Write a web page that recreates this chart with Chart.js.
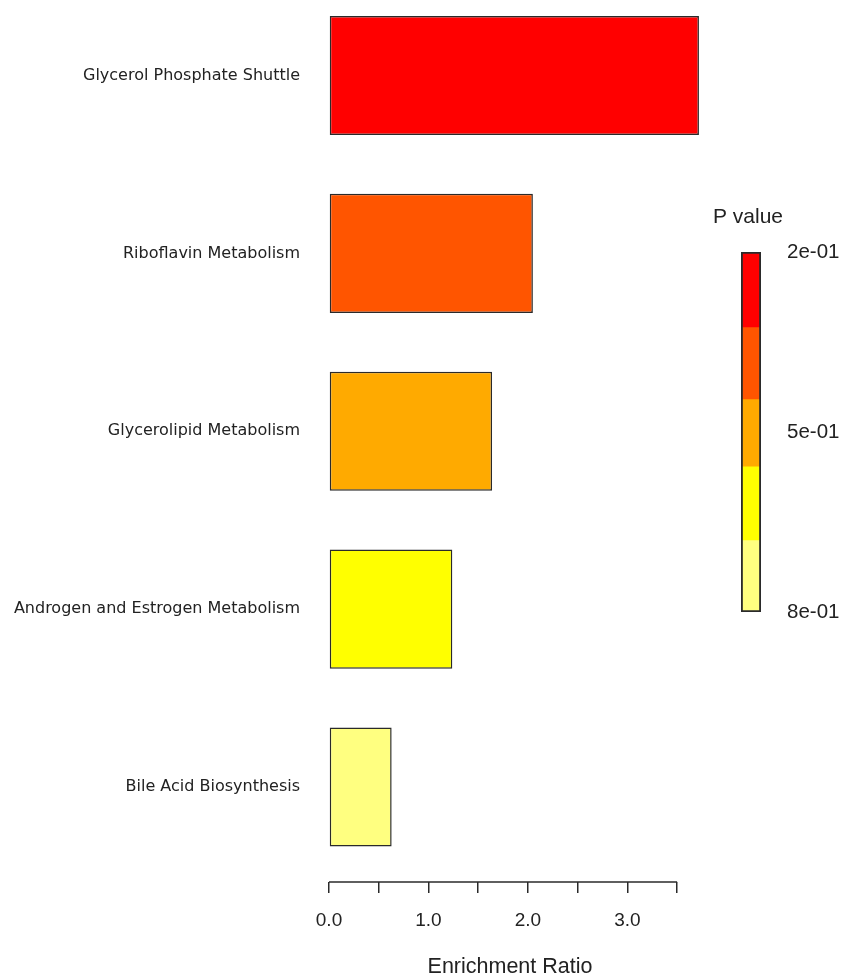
<!DOCTYPE html>
<html lang="en">
<head>
    <meta charset="UTF-8">
    <title>Enrichment Ratio</title>
    <script src="https://cdn.jsdelivr.net/npm/chart.js"></script>
    <style>
        body {
            margin: 0;
            padding: 0;
            background: #fff;
        }
        #wrap {
            position: relative;
            width: 843px;
            height: 980px;
        }
        #keyChart {
            position: absolute;
            left: 690px;
            top: 180px;
        }
    </style>
</head>
<body>
    <div id="wrap">
        <canvas id="barChart" width="843" height="980"></canvas>
        <canvas id="keyChart" width="153" height="450"></canvas>
    </div>
    <script>
        // Pathways, top to bottom
        const categories = [
            'Glycerol Phosphate Shuttle',
            'Riboflavin Metabolism',
            'Glycerolipid Metabolism',
            'Androgen and Estrogen Metabolism',
            'Bile Acid Biosynthesis'
        ];
        const enrichment = [3.72, 2.05, 1.64, 1.24, 0.63];
        const barColors = ['#ff0000', '#ff5500', '#ffaa00', '#ffff00', '#ffff80'];

        const xTicks = [0, 0.5, 1, 1.5, 2, 2.5, 3, 3.5];
        const xTickLabels = ['0.0', '', '1.0', '', '2.0', '', '3.0', ''];

        // P value colour key
        const keyBreaks = [0.2, 0.325, 0.445, 0.557, 0.68, 0.8];
        const keyColors = ['#ff0000', '#ff5500', '#ffaa00', '#ffff00', '#ffff80'];
        const keyTicks = [0.2, 0.5, 0.8];
        const keyTickLabels = ['2e-01', '5e-01', '8e-01'];

        const textColor = '#222';
        const lineColor = '#2a2a2a';
        const sans = "'Liberation Sans', Arial, sans-serif";

        // axis line only runs from first to last tick, like base R
        const axisLine = {
            id: 'axisLine',
            afterDraw(chart) {
                const x = chart.scales.x;
                const ctx = chart.ctx;
                ctx.save();
                ctx.strokeStyle = lineColor;
                ctx.lineWidth = 1.5;
                ctx.beginPath();
                ctx.moveTo(x.getPixelForValue(xTicks[0]), x.top);
                ctx.lineTo(x.getPixelForValue(xTicks[xTicks.length - 1]), x.top);
                ctx.stroke();
                ctx.restore();
            }
        };

        // keep label padding from pushing the plot area around
        function noPad(s) {
            s.paddingTop = 0;
            s.paddingBottom = 0;
            s.paddingLeft = 0;
            s.paddingRight = 0;
        }

        new Chart(document.getElementById('barChart'), {
            type: 'bar',
            data: {
                datasets: [{
                    data: enrichment.map((v, i) => ({ x: v, y: i })),
                    backgroundColor: barColors,
                    borderColor: lineColor,
                    borderWidth: 1.5,
                    borderSkipped: false,
                    barPercentage: 0.67,
                    categoryPercentage: 1,
                    clip: false
                }]
            },
            options: {
                indexAxis: 'y',
                responsive: false,
                animation: false,
                layout: { padding: { top: 20, right: 152, left: 0, bottom: 0 } },
                plugins: {
                    legend: { display: false },
                    tooltip: { enabled: false }
                },
                scales: {
                    x: {
                        type: 'linear',
                        position: 'bottom',
                        min: 0,
                        max: 3.64,
                        afterBuildTicks: s => { s.ticks = xTicks.map(v => ({ value: v })); },
                        afterFit: s => { s.height = 98; noPad(s); },
                        grid: {
                            drawOnChartArea: false,
                            drawTicks: true,
                            tickLength: 11,
                            color: lineColor,
                            lineWidth: 1.5
                        },
                        border: { display: false },
                        ticks: {
                            callback: (v, i) => xTickLabels[i],
                            autoSkip: false,
                            maxRotation: 0,
                            padding: 16,
                            color: textColor,
                            font: { family: sans, size: 19 }
                        },
                        title: {
                            display: true,
                            text: 'Enrichment Ratio',
                            color: textColor,
                            padding: 0,
                            font: { family: sans, size: 21.5 }
                        }
                    },
                    y: {
                        type: 'linear',
                        reverse: true,
                        offset: false,
                        min: -0.312,
                        max: 4.534,
                        afterBuildTicks: s => { s.ticks = categories.map((c, i) => ({ value: i })); },
                        afterFit: s => { s.width = 329; noPad(s); },
                        grid: { display: false, drawTicks: false, offset: false },
                        border: { display: false },
                        ticks: {
                            callback: v => categories[v],
                            autoSkip: false,
                            padding: 29,
                            color: textColor,
                            font: { family: "'DejaVu Sans', sans-serif", size: 16 }
                        }
                    }
                }
            },
            plugins: [axisLine]
        });

        // colour key as floating bars
        const keySets = keyColors.map((c, i) => ({
            data: [[keyBreaks[i], keyBreaks[i + 1]]],
            yAxisID: 'y',
            backgroundColor: c,
            borderWidth: 0,
            grouped: false,
            barPercentage: 1,
            categoryPercentage: 1
        }));
        // outline drawn on top of the segments
        keySets.push({
            data: [[keyBreaks[0], keyBreaks[keyBreaks.length - 1]]],
            yAxisID: 'y',
            backgroundColor: 'rgba(0,0,0,0)',
            borderColor: lineColor,
            borderWidth: 1.5,
            borderSkipped: false,
            grouped: false,
            order: -1,
            barPercentage: 1,
            categoryPercentage: 1
        });

        new Chart(document.getElementById('keyChart'), {
            type: 'bar',
            data: { labels: [''], datasets: keySets },
            options: {
                responsive: false,
                animation: false,
                layout: { padding: { left: 23, top: 0, right: 0, bottom: 18 } },
                plugins: {
                    legend: { display: false },
                    tooltip: { enabled: false },
                    title: {
                        display: true,
                        text: 'P value',
                        align: 'start',
                        color: textColor,
                        padding: { top: 24.4, bottom: 22.4 },
                        font: { family: sans, size: 21, weight: 'normal' }
                    }
                },
                scales: {
                    x: { display: false },
                    yl: {
                        type: 'linear',
                        position: 'left',
                        afterFit: s => { s.width = 28; noPad(s); },
                        ticks: { display: false },
                        grid: { display: false },
                        border: { display: false }
                    },
                    y: {
                        type: 'linear',
                        position: 'right',
                        reverse: true,
                        min: keyBreaks[0],
                        max: keyBreaks[keyBreaks.length - 1],
                        afterBuildTicks: s => { s.ticks = keyTicks.map(v => ({ value: v })); },
                        afterFit: s => { s.width = 82; noPad(s); },
                        grid: { display: false, drawTicks: false },
                        border: { display: false },
                        ticks: {
                            callback: (v, i) => keyTickLabels[i],
                            autoSkip: false,
                            padding: 26,
                            color: textColor,
                            font: { family: sans, size: 20.5 }
                        }
                    }
                }
            }
        });
    </script>
</body>
</html>
